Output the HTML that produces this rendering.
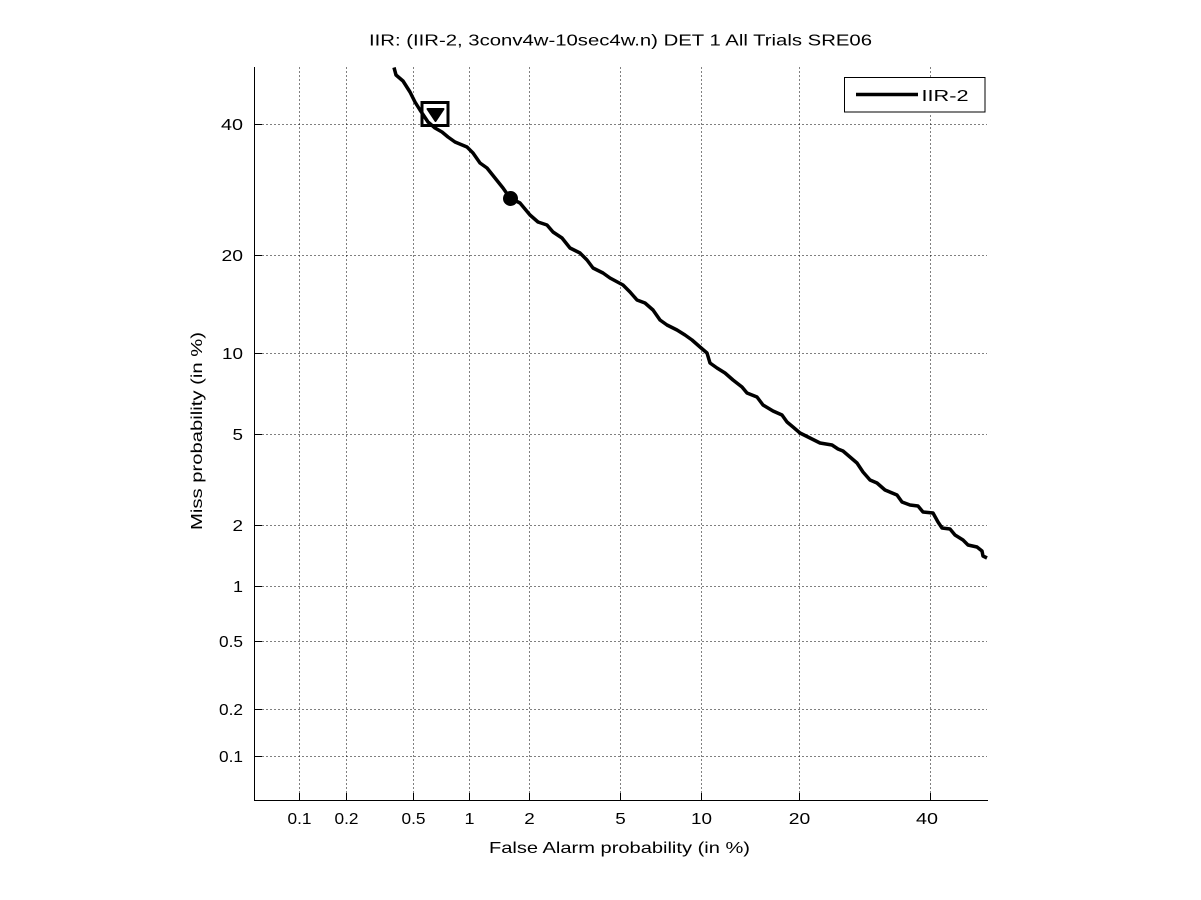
<!DOCTYPE html>
<html><head><meta charset="utf-8"><style>
html,body{margin:0;padding:0;background:#fff;}
svg{display:block;}
text{font-family:"Liberation Sans",Arial,sans-serif;font-size:16px;fill:#000;}
</style></head><body>
<svg width="1201" height="900" viewBox="0 0 1201 900" xmlns="http://www.w3.org/2000/svg">
<rect width="1201" height="900" fill="#fff"/>
<!-- grid -->
<g stroke="#000" stroke-width="1" stroke-dasharray="1 3" fill="none">
<line x1="299.5" y1="67.5" x2="299.5" y2="800.5"/>
<line x1="346.5" y1="67.5" x2="346.5" y2="800.5"/>
<line x1="413.5" y1="67.5" x2="413.5" y2="800.5"/>
<line x1="469.5" y1="67.5" x2="469.5" y2="800.5"/>
<line x1="529.5" y1="67.5" x2="529.5" y2="800.5"/>
<line x1="620.5" y1="67.5" x2="620.5" y2="800.5"/>
<line x1="701.5" y1="67.5" x2="701.5" y2="800.5"/>
<line x1="799.5" y1="67.5" x2="799.5" y2="800.5"/>
<line x1="930.5" y1="67.5" x2="930.5" y2="800.5"/>
<line x1="254.5" y1="756.5" x2="987" y2="756.5"/>
<line x1="254.5" y1="709.5" x2="987" y2="709.5"/>
<line x1="254.5" y1="641.5" x2="987" y2="641.5"/>
<line x1="254.5" y1="586.5" x2="987" y2="586.5"/>
<line x1="254.5" y1="525.5" x2="987" y2="525.5"/>
<line x1="254.5" y1="434.5" x2="987" y2="434.5"/>
<line x1="254.5" y1="353.5" x2="987" y2="353.5"/>
<line x1="254.5" y1="255.5" x2="987" y2="255.5"/>
<line x1="254.5" y1="124.5" x2="987" y2="124.5"/>
</g>
<!-- axes -->
<g stroke="#000" stroke-width="1" fill="none">
<line x1="254.5" y1="67" x2="254.5" y2="801"/>
<line x1="254" y1="800.5" x2="988" y2="800.5"/>
<line x1="254.5" y1="756.5" x2="262" y2="756.5"/>
<line x1="254.5" y1="709.5" x2="262" y2="709.5"/>
<line x1="254.5" y1="641.5" x2="262" y2="641.5"/>
<line x1="254.5" y1="586.5" x2="262" y2="586.5"/>
<line x1="254.5" y1="525.5" x2="262" y2="525.5"/>
<line x1="254.5" y1="434.5" x2="262" y2="434.5"/>
<line x1="254.5" y1="353.5" x2="262" y2="353.5"/>
<line x1="254.5" y1="255.5" x2="262" y2="255.5"/>
<line x1="254.5" y1="124.5" x2="262" y2="124.5"/>
<line x1="299.5" y1="800.5" x2="299.5" y2="793"/>
<line x1="346.5" y1="800.5" x2="346.5" y2="793"/>
<line x1="413.5" y1="800.5" x2="413.5" y2="793"/>
<line x1="469.5" y1="800.5" x2="469.5" y2="793"/>
<line x1="529.5" y1="800.5" x2="529.5" y2="793"/>
<line x1="620.5" y1="800.5" x2="620.5" y2="793"/>
<line x1="701.5" y1="800.5" x2="701.5" y2="793"/>
<line x1="799.5" y1="800.5" x2="799.5" y2="793"/>
<line x1="930.5" y1="800.5" x2="930.5" y2="793"/>
</g>
<!-- y tick labels -->
<g text-anchor="end">
<text x="243" y="762" textLength="24" lengthAdjust="spacingAndGlyphs">0.1</text>
<text x="243" y="715" textLength="24" lengthAdjust="spacingAndGlyphs">0.2</text>
<text x="243" y="647" textLength="24" lengthAdjust="spacingAndGlyphs">0.5</text>
<text x="243" y="592" textLength="10" lengthAdjust="spacingAndGlyphs">1</text>
<text x="243" y="531" textLength="10.5" lengthAdjust="spacingAndGlyphs">2</text>
<text x="243" y="440" textLength="10.5" lengthAdjust="spacingAndGlyphs">5</text>
<text x="243" y="359" textLength="21" lengthAdjust="spacingAndGlyphs">10</text>
<text x="243" y="261" textLength="21.5" lengthAdjust="spacingAndGlyphs">20</text>
<text x="243" y="130" textLength="22" lengthAdjust="spacingAndGlyphs">40</text>
</g>
<!-- x tick labels -->
<g text-anchor="middle">
<text x="299.5" y="824" textLength="24" lengthAdjust="spacingAndGlyphs">0.1</text>
<text x="346.5" y="824" textLength="24" lengthAdjust="spacingAndGlyphs">0.2</text>
<text x="413.5" y="824" textLength="24" lengthAdjust="spacingAndGlyphs">0.5</text>
<text x="469.5" y="824" textLength="10" lengthAdjust="spacingAndGlyphs">1</text>
<text x="529.5" y="824" textLength="10.5" lengthAdjust="spacingAndGlyphs">2</text>
<text x="620.5" y="824" textLength="10.5" lengthAdjust="spacingAndGlyphs">5</text>
<text x="701.5" y="824" textLength="21" lengthAdjust="spacingAndGlyphs">10</text>
<text x="799.5" y="824" textLength="21.5" lengthAdjust="spacingAndGlyphs">20</text>
<text x="927" y="824" textLength="22" lengthAdjust="spacingAndGlyphs">40</text>
</g>
<!-- labels -->
<text x="620.5" y="45.5" text-anchor="middle" textLength="503" lengthAdjust="spacingAndGlyphs">IIR: (IIR-2, 3conv4w-10sec4w.n) DET 1 All Trials SRE06</text>
<text x="619.5" y="853" text-anchor="middle" textLength="261" lengthAdjust="spacingAndGlyphs">False Alarm probability (in %)</text>
<text transform="translate(202,431) rotate(-90)" text-anchor="middle" textLength="198" lengthAdjust="spacingAndGlyphs">Miss probability (in %)</text>
<!-- curve -->
<polyline fill="none" stroke="#000" stroke-width="3.5" stroke-linejoin="round" stroke-linecap="butt" points="394,67.5 396,75 403,81 410,92 415,102 420,110 428,122 435,128 442,132 448,137 455,142 467,147 473,153 480,163 487,168 495,178 503,188 510,198 520,203 530,215 538,222 547,225 553,232 562,238 570,248 580,253 587,260 593,268 603,273 610,278 623,285 630,292 637,300 645,303 653,310 660,320 667,325 677,330 685,335 692,340 700,347 707,353 710,363 717,368 725,373 733,380 742,387 747,393 757,397 763,405 773,411 782,415 787,422 793,427 800,433 810,438 820,443 832,445 838,449 843,451 850,457 857,463 863,472 870,480 877,483 885,490 897,495 902,502 910,505 918,506 923,512 933,513 938,522 942,528 950,529 955,535 963,540 968,545 977,547 982,551 983,556 987,558"/>
<!-- markers -->
<rect x="422" y="102.5" width="26" height="23" fill="none" stroke="#000" stroke-width="3"/>
<polygon points="427.5,109 443.5,109 435.5,121" fill="#000" stroke="#000" stroke-width="2" stroke-linejoin="round"/>
<circle cx="510.5" cy="198.5" r="7.5" fill="#000"/>
<!-- legend -->
<rect x="844.5" y="77.5" width="140.5" height="34.5" fill="#fff" stroke="#000" stroke-width="1"/>
<line x1="856" y1="94.5" x2="918" y2="94.5" stroke="#000" stroke-width="3.5"/>
<text x="921.5" y="101" textLength="47" lengthAdjust="spacingAndGlyphs">IIR-2</text>
</svg>
</body></html>
